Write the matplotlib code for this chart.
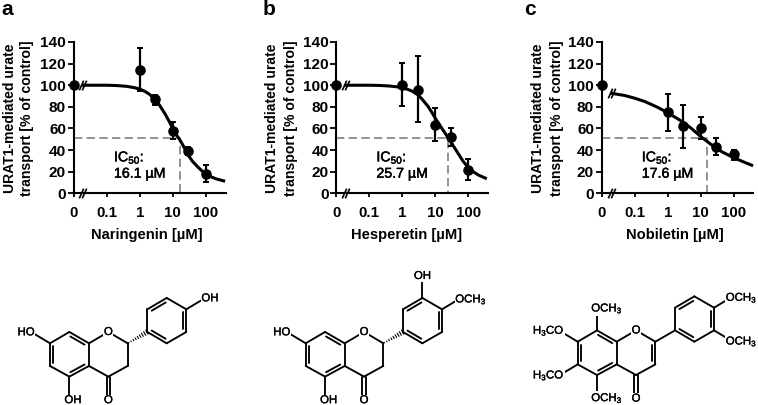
import matplotlib
matplotlib.use('Agg')
import matplotlib.pyplot as plt
import matplotlib.patheffects as pe
import numpy as np

plt.rcParams['font.family'] = ['Liberation Sans', 'DejaVu Sans']
plt.rcParams['mathtext.default'] = 'regular'

W, H = 758, 405

# measured concentrations, 0 is drawn on the broken part of the axis
conc = [0, 1, 3, 10, 30, 100]
ticks = [0, 0.1, 1, 10, 100]
tick_labels = ['0', '0.1', '1', '10', '100']
yticks = [0, 20, 40, 60, 80, 100, 120, 140]

# naringenin
a_mean = [100, 114, 87, 58, 39, 18]
a_low = [87, 95, 82, 50, 35, 10]
a_high = [113, 134, 91, 66, 43, 26]
a_curve_x = [0.02, 0.05, 0.1, 0.2, 0.4, 0.7, 1, 1.5, 2, 3, 4, 6, 8, 10, 13, 16, 20, 25, 30, 40, 55, 75, 100, 140, 200, 350]
a_curve_y = [100, 100, 100, 99.7, 99, 97.7, 96.5, 94, 91.5, 86.5, 81.5, 73, 66, 60, 54, 50, 45, 39.5, 35, 29.5, 25, 21, 18, 15.5, 13.5, 11.5]

# hesperetin
b_mean = [100, 100, 96, 63.5, 52, 22]
b_low = [87, 81, 66, 48, 44, 12]
b_high = [113, 121, 127, 79, 60, 32]
b_curve_x = [0.02, 0.05, 0.1, 0.2, 0.4, 0.7, 1, 1.5, 2, 3, 4, 6, 8, 10, 13, 18, 25, 35, 50, 70, 100, 140, 200, 330]
b_curve_y = [100, 100, 100, 99.8, 99.3, 98.5, 97.5, 96, 94.5, 91, 87, 80.5, 74.5, 69.5, 64, 57.5, 51, 44, 36.5, 29.5, 24, 20, 17, 14]

# nobiletin
c_mean = [100, 75, 62, 60.5, 43, 36]
c_low = [87, 58, 42, 50, 35, 31]
c_high = [113, 92, 82, 71, 51, 40]
c_curve_x = [0.02, 0.05, 0.1, 0.2, 0.5, 1, 2, 3, 5, 10, 20, 30, 50, 100, 200, 350]
c_curve_y = [92.5, 90.5, 88, 85, 79.5, 74.5, 69, 65.5, 60.5, 52.5, 45.5, 41.5, 37.5, 33, 29, 26]

panels = [
    dict(letter='a', lx=1, name='Naringenin [µM]', xc=146.5, mean=a_mean, low=a_low, high=a_high,
         cx=a_curve_x, cy=a_curve_y, ic=16.6, ic_text='16.1 µM', x0=73.7, x1=225.7,
         yl=(10.5, 27.5), brk=-1.78),
    dict(letter='b', lx=263, name='Hesperetin [µM]', xc=407, mean=b_mean, low=b_low, high=b_high,
         cx=b_curve_x, cy=b_curve_y, ic=23.7, ic_text='25.7 µM', x0=336.3, x1=487.7,
         yl=(272.5, 290.5), brk=-1.78),
    dict(letter='c', lx=524, name='Nobiletin [µM]', xc=674.5, mean=c_mean, low=c_low, high=c_high,
         cx=c_curve_x, cy=c_curve_y, ic=15, ic_text='17.6 µM', x0=601.7, x1=753,
         yl=(538.5, 557), brk=-1.75),
]

fig = plt.figure(figsize=(W / 100, H / 100), dpi=100)
Y0, Y1 = 193.3, 42


def pos(c):
    # 0 sits one decade left of 0.1
    return np.log10(c) if c > 0 else -2


for p in panels:
    ax = fig.add_axes([p['x0'] / W, 1 - Y0 / H, (p['x1'] - p['x0']) / W, (Y0 - Y1) / H])
    ax.set_xlim(-2, -2 + (p['x1'] - p['x0']) / 33)
    ax.set_ylim(0, 140)
    for s in ['top', 'right']:
        ax.spines[s].set_visible(False)
    for s in ['left', 'bottom']:
        ax.spines[s].set_linewidth(1.5)
    ax.set_xticks([pos(t) for t in ticks])
    ax.set_xticklabels(tick_labels, fontsize=10.8, fontweight='bold')
    ax.set_yticks(yticks)
    ax.set_yticklabels([str(t) for t in yticks], fontsize=11.1, fontweight='bold')
    ax.tick_params(axis='x', length=3, width=1.3, pad=6.5)
    ax.tick_params(axis='y', length=4, width=1.3, pad=1.5)

    xs = [pos(c) for c in conc]
    # dashed IC50 guide
    ic_x = pos(p['ic'])
    ax.plot([-2, ic_x, ic_x], [51, 51, 0], color='#808080', lw=1.2, dashes=(5, 2.6), zorder=1)
    # fitted curve
    ax.plot([pos(c) for c in p['cx']], p['cy'], color='black', lw=2.2, zorder=3,
            solid_joinstyle='round', clip_on=False)
    # measured points with error bars, the 0 point only shows small caps on the axis
    low = np.array(p['mean']) - np.array(p['low'])
    high = np.array(p['high']) - np.array(p['mean'])
    ax.errorbar(xs[1:], p['mean'][1:], yerr=[low[1:], high[1:]], fmt='o', color='black', ms=6.6,
                elinewidth=1.6, capsize=2.2, capthick=1.4, clip_on=False, zorder=4)
    ax.errorbar(xs[:1], p['mean'][:1], yerr=[low[:1], high[:1]], fmt='o', color='black', ms=6.6,
                elinewidth=1.3, capsize=0.9, capthick=1.2, clip_on=False, zorder=4)
    # axis breaks on the x axis and on the curve
    brk_xs = [p['brk'], p['brk'] + 0.09]
    slash = [(-1, -2.2), (1, 2.2)]
    ax.plot(brk_xs, [0, 0], ls='none', marker=slash, ms=7, mec='black', mew=1.2, clip_on=False, zorder=5)
    brk_y = p['cy'][0]
    ax.plot(brk_xs, [brk_y, brk_y], ls='none', marker=slash, ms=7, mec='black', mew=1.2, clip_on=False, zorder=5)

    t = ax.text(0.265, 0.187, 'IC$_{50}$:\n' + p['ic_text'], transform=ax.transAxes, fontsize=10.2,
                va='center', ha='left', linespacing=1.08, color='black')
    t.set_path_effects([pe.withStroke(linewidth=0.35, foreground='black')])

    fig.text(p['xc'] / W, 1 - 235 / H, p['name'], fontsize=10.6, fontweight='bold', ha='center', va='center')
    fig.text(p['lx'] / W, 1 - 9.5 / H, p['letter'], fontsize=15, fontweight='bold', ha='left', va='center')
    fig.text(p['yl'][0] / W, 1 - 118 / H, 'URAT1-mediated urate', fontsize=10.1, fontweight='bold',
             rotation=90, ha='center', va='center')
    fig.text(p['yl'][1] / W, 1 - 118 / H, 'transport [% of control]', fontsize=10.1, fontweight='bold',
             rotation=90, ha='center', va='center')

# structures, drawn on a full figure layer in pixels
mol = fig.add_axes([0, 0, 1, 1])
mol.set_xlim(0, W)
mol.set_ylim(H, 0)
mol.axis('off')
mol.patch.set_alpha(0)

atoms = {
    'C7': (-117, 0), 'C8': (-59, -34), 'C8a': (0, 0), 'C4a': (0, 68), 'C5': (-59, 100), 'C6': (-117, 68),
    'O1': (58, -34), 'C2': (116, 0), 'C3': (116, 68), 'C4': (58, 100),
    'C1p': (175, -34), 'C2p': (175, -102), 'C3p': (233, -136), 'C4p': (292, -102), 'C5p': (292, -34), 'C6p': (233, 0),
}
ring_a = ['C7', 'C8', 'C8a', 'C4a', 'C5', 'C6', 'C7']
ring_b = ['C1p', 'C2p', 'C3p', 'C4p', 'C5p', 'C6p', 'C1p']
ring_c = ['C8a', 'O1', 'C2', 'C3', 'C4', 'C4a']
doubles_a = [('C8', 'C8a'), ('C4a', 'C5'), ('C6', 'C7')]
doubles_b = [('C1p', 'C6p'), ('C2p', 'C3p'), ('C4p', 'C5p')]


def bond(p1, p2, lw=1.35):
    mol.plot([p1[0], p2[0]], [p1[1], p2[1]], color='black', lw=lw, solid_capstyle='round', zorder=1)


def label(x, y, s):
    t = mol.text(x, y, s, fontsize=8.2, ha='center', va='center', zorder=3,
                 bbox=dict(fc='white', ec='none', pad=0.4))
    t.set_path_effects([pe.withStroke(linewidth=0.25, foreground='black')])


def draw(ox, oy, wedge, c2c3_double, subs):
    pt = {k: (ox + v[0] / 3, oy + v[1] / 3) for k, v in atoms.items()}
    for ring in [ring_a, ring_b, ring_c]:
        for i, j in zip(ring[:-1], ring[1:]):
            bond(pt[i], pt[j])
    if not wedge:
        bond(pt['C2'], pt['C1p'])
    else:
        s = np.array(pt['C2'])
        e = np.array(pt['C1p'])
        d = (e - s) / np.linalg.norm(e - s)
        nrm = np.array([-d[1], d[0]])
        for f in np.arange(0.06, 1.0, 0.115):
            m = s + (e - s) * f
            bond(m - nrm * 2.4 * f, m + nrm * 2.4 * f, lw=0.8)
    centre_a = np.mean([pt[k] for k in ring_a[:-1]], axis=0)
    centre_b = np.mean([pt[k] for k in ring_b[:-1]], axis=0)
    centre_c = np.mean([pt[k] for k in ['C8a', 'O1', 'C2', 'C3', 'C4', 'C4a']], axis=0)
    inner = [(d, centre_a) for d in doubles_a] + [(d, centre_b) for d in doubles_b]
    if c2c3_double:
        inner.append((('C2', 'C3'), centre_c))
    for (i, j), c in inner:
        p1, p2 = np.array(pt[i]), np.array(pt[j])
        m = (p1 + p2) / 2
        v = c - m
        v = v / np.linalg.norm(v) * 3.4
        bond(p1 + (p2 - p1) * 0.14 + v, p2 - (p2 - p1) * 0.14 + v)
    # carbonyl
    c4 = np.array(pt['C4'])
    for off in (-1.6, 1.6):
        bond((c4[0] + off, c4[1]), (c4[0] + off, c4[1] + 19))
    label(c4[0], c4[1] + 23.5, 'O')
    label(pt['O1'][0], pt['O1'][1], 'O')
    for frm, dx, dy, tx, ty, s in subs:
        f = pt[frm]
        bond(f, (f[0] + dx, f[1] + dy))
        label(f[0] + tx, f[1] + ty, s)


draw(89, 343.3, True, False, [
    ('C7', -15, -9, -24, -11, 'HO'),
    ('C5', 0, 19, 3.5, 23.5, 'OH'),
    ('C4p', 15, -9, 23.5, -11, 'OH'),
])
draw(344.7, 343.3, True, False, [
    ('C7', -15, -9, -24, -11, 'HO'),
    ('C5', 0, 19, 3.5, 23.5, 'OH'),
    ('C3p', 0, -19, 0, -22, 'OH'),
    ('C4p', 15, -9, 29, -10, 'OCH$_3$'),
])
draw(616.7, 341.7, False, True, [
    ('C8', 0, -19, 10, -22, 'OCH$_3$'),
    ('C7', -15, -9, -29, -11, 'H$_3$CO'),
    ('C6', -15, 9, -29, 11, 'H$_3$CO'),
    ('C5', 0, 19, 10, 23, 'OCH$_3$'),
    ('C4p', 15, -9, 27.5, -10, 'OCH$_3$'),
    ('C5p', 15, 9, 27.5, 11, 'OCH$_3$'),
])

fig.savefig('out.png', dpi=100)
